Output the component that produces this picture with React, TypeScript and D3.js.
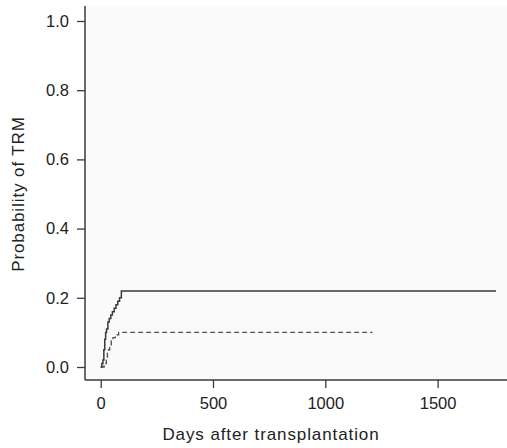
import React, { useEffect, useRef } from 'react';
import * as d3 from 'd3';

// Cumulative incidence of transplant-related mortality (days, probability)
const solidDays = [0, 5, 10, 14, 18, 22, 26, 32, 38, 45, 52, 60, 68, 76, 84, 92, 1760];
const solidProb = [0, 0.01, 0.02, 0.05, 0.08, 0.1, 0.11, 0.13, 0.14, 0.15, 0.16, 0.17, 0.18, 0.19, 0.2, 0.22, 0.22];

const dashedDays = [0, 15, 25, 30, 35, 40, 47, 55, 65, 80, 1210];
const dashedProb = [0, 0.01, 0.02, 0.04, 0.05, 0.06, 0.075, 0.085, 0.093, 0.1, 0.1];

const xTicks = [0, 500, 1000, 1500];
const yTicks = [0, 0.2, 0.4, 0.6, 0.8, 1.0];

const WIDTH = 507;
const HEIGHT = 448;

const App: React.FC = () => {
  const ref = useRef<SVGSVGElement>(null);

  useEffect(() => {
    if (!ref.current) return;
    const svg = d3.select(ref.current);
    svg.selectAll('*').remove();

    const font = '"Liberation Sans", Arial, sans-serif';
    const ink = '#3a3a3a';

    const x = d3.scaleLinear().domain([0, 500]).range([100.7, 213]);
    const y = d3.scaleLinear().domain([0, 1]).range([367, 21]);

    const plotLeft = 85;
    const plotTop = 6;
    const plotBottom = 380;

    // Plot background
    svg.append('rect')
      .attr('x', plotLeft)
      .attr('y', plotTop)
      .attr('width', WIDTH - plotLeft)
      .attr('height', plotBottom - plotTop)
      .attr('fill', '#fafafa');

    // Y axis
    const yAxis = svg.append('g')
      .attr('transform', `translate(${plotLeft},0)`)
      .call(d3.axisLeft(y).tickValues(yTicks).tickFormat(d3.format('.1f')).tickSize(8).tickPadding(8));
    yAxis.select('.domain').remove();
    yAxis.append('line')
      .attr('x1', 0).attr('x2', 0)
      .attr('y1', plotTop).attr('y2', plotBottom)
      .attr('stroke', ink).attr('stroke-width', 1.5);

    // X axis
    const xAxis = svg.append('g')
      .attr('transform', `translate(0,${plotBottom})`)
      .call(d3.axisBottom(x).tickValues(xTicks).tickFormat(d3.format('d')).tickSize(8).tickPadding(9));
    xAxis.select('.domain').remove();
    xAxis.append('line')
      .attr('x1', plotLeft).attr('x2', WIDTH)
      .attr('y1', 0).attr('y2', 0)
      .attr('stroke', ink).attr('stroke-width', 1.5);

    [yAxis, xAxis].forEach((g) => {
      g.selectAll('.tick line').attr('stroke', ink).attr('stroke-width', 1.3);
      g.selectAll('.tick text')
        .attr('fill', '#222')
        .attr('font-size', '16.5px')
        .attr('font-family', font);
    });

    // Axis titles
    svg.append('text')
      .attr('x', 271)
      .attr('y', 440)
      .attr('text-anchor', 'middle')
      .attr('font-size', '17px')
      .attr('letter-spacing', '0.9px')
      .attr('font-family', font)
      .attr('fill', '#222')
      .text('Days after transplantation');

    svg.append('text')
      .attr('transform', `translate(24,194) rotate(-90)`)
      .attr('text-anchor', 'middle')
      .attr('font-size', '17px')
      .attr('letter-spacing', '0.9px')
      .attr('font-family', font)
      .attr('fill', '#222')
      .text('Probability of TRM');

    // Curves
    const line = d3.line<[number, number]>()
      .x((d) => x(d[0]))
      .y((d) => y(d[1]))
      .curve(d3.curveStepAfter);

    const solid: [number, number][] = solidDays.map((d, i) => [d, solidProb[i]]);
    const dashed: [number, number][] = dashedDays.map((d, i) => [d, dashedProb[i]]);

    svg.append('path')
      .attr('d', line(dashed))
      .attr('fill', 'none')
      .attr('stroke', '#555')
      .attr('stroke-width', 1.4)
      .attr('stroke-dasharray', '5,3');

    svg.append('path')
      .attr('d', line(solid))
      .attr('fill', 'none')
      .attr('stroke', '#3a3a3a')
      .attr('stroke-width', 1.5);
  }, []);

  return (
    <div style={{ position: 'absolute', left: 0, top: 0 }}>
      <svg ref={ref} width={WIDTH} height={HEIGHT} style={{ display: 'block', background: '#fff' }} />
    </div>
  );
};

export default App;
